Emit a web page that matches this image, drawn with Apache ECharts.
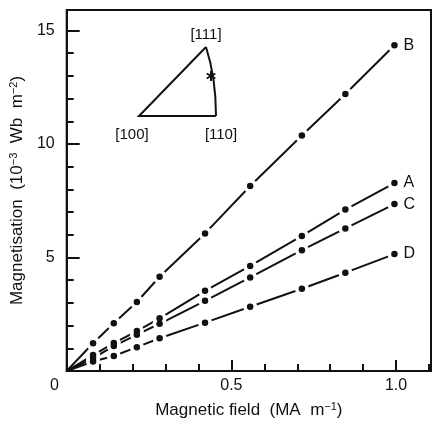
<!DOCTYPE html>
<html>
<head>
<meta charset="utf-8">
<script src="https://cdn.jsdelivr.net/npm/echarts@6/dist/echarts.min.js"></script>
<style>
  html, body { margin: 0; padding: 0; background: #fff; }
  #chart { width: 434px; height: 424px; }
</style>
</head>
<body>
<div id="chart"></div>
<script>
// Applied field (MA m^-1) at which each magnetisation was measured
var fields = [0.08, 0.143, 0.213, 0.282, 0.42, 0.557, 0.714, 0.846, 0.995];

// Magnetisation (10^-3 Wb m^-2) for the four samples
var curveNames = ['A', 'B', 'C', 'D'];
var magA = [0.70, 1.23, 1.76, 2.32, 3.53, 4.63, 5.95, 7.11, 8.28];
var magB = [1.22, 2.10, 3.04, 4.15, 6.06, 8.15, 10.37, 12.2, 14.35];
var magC = [0.57, 1.10, 1.60, 2.08, 3.09, 4.12, 5.32, 6.28, 7.35];
var magD = [0.42, 0.66, 1.05, 1.44, 2.13, 2.83, 3.62, 4.33, 5.15];

// Axis labels
var xMajorLabels = ['0.5', '1.0'];
var yMajorLabels = ['5', '10', '15'];

var FONT = 'Liberation Sans';
var INK = '#111';

var magByName = { A: magA, B: magB, C: magC, D: magD };

function pointsOf(values) {
  var pts = [];
  for (var i = 0; i < values.length; i++) pts.push([fields[i], values[i]]);
  return pts;
}

// Solid lines from the origin through the measured points, labelled at the end
var lineSeries = curveNames.map(function (name) {
  return {
    name: name,
    type: 'line',
    data: [[0, 0]].concat(pointsOf(magByName[name])),
    showSymbol: false,
    symbol: 'none',
    lineStyle: { color: INK, width: 2 },
    z: 2,
    emphasis: { disabled: true },
    endLabel: {
      show: true,
      formatter: name,
      distance: 9,
      color: INK,
      fontFamily: FONT,
      fontSize: 16
    }
  };
});

var allPoints = [];
curveNames.forEach(function (name) { allPoints = allPoints.concat(pointsOf(magByName[name])); });

// White discs break the line around each point, then the dots go on top
var haloSeries = {
  type: 'scatter', data: allPoints, symbol: 'circle', symbolSize: 14,
  itemStyle: { color: '#fff', opacity: 1 }, z: 3, silent: true
};
var dotSeries = {
  type: 'scatter', data: allPoints, symbol: 'circle', symbolSize: 6.5,
  itemStyle: { color: INK, opacity: 1 }, z: 4, silent: true
};

function near(v, s) { return Math.abs(v - parseFloat(s)) < 1e-6; }

var xMax = 1.106, yMax = 15.9;

var option = {
  animation: false,
  grid: {
    left: 66, right: 3, top: 10, bottom: 53,
    show: true, borderColor: INK, borderWidth: 2, backgroundColor: 'transparent'
  },
  xAxis: [
    {
      type: 'value', min: 0, max: xMax, interval: 0.1,
      axisLine: { show: true, lineStyle: { color: INK, width: 2 } },
      axisTick: { show: true, inside: true, length: 7, lineStyle: { color: INK, width: 2 } },
      splitLine: { show: false },
      axisLabel: {
        margin: 7, color: INK, fontFamily: FONT, fontSize: 16,
        showMaxLabel: false,
        formatter: function (v) {
          for (var i = 0; i < xMajorLabels.length; i++) if (near(v, xMajorLabels[i])) return xMajorLabels[i];
          return '';
        }
      },
      name: 'Magnetic field  (MA  m{sup|\u22121})',
      nameLocation: 'middle',
      nameGap: 30,
      nameTextStyle: {
        color: INK, fontFamily: FONT, fontSize: 17,
        rich: { sup: { fontFamily: FONT, fontSize: 11, color: INK, verticalAlign: 'top', padding: [0, 0, 8, 0] } }
      }
    },
    {
      type: 'value', min: 0, max: xMax, interval: 0.5, position: 'bottom',
      axisLine: { show: false },
      axisTick: { show: true, inside: true, length: 11, lineStyle: { color: INK, width: 2 } },
      axisLabel: { show: false },
      splitLine: { show: false }
    }
  ],
  yAxis: [
    {
      type: 'value', min: 0, max: yMax, interval: 1,
      axisLine: { show: true, lineStyle: { color: INK, width: 2 } },
      axisTick: { show: true, inside: true, length: 7, lineStyle: { color: INK, width: 2 } },
      splitLine: { show: false },
      axisLabel: {
        margin: 12, color: INK, fontFamily: FONT, fontSize: 16,
        showMaxLabel: false,
        formatter: function (v) {
          for (var i = 0; i < yMajorLabels.length; i++) if (near(v, yMajorLabels[i])) return yMajorLabels[i];
          return '';
        }
      },
      name: 'Magnetisation  (10{sup|\u22123}  Wb  m{sup|\u22122})',
      nameLocation: 'middle',
      nameGap: 33,
      nameTextStyle: {
        color: INK, fontFamily: FONT, fontSize: 17,
        rich: { sup: { fontFamily: FONT, fontSize: 11, color: INK, verticalAlign: 'top', padding: [0, 0, 8, 0] } }
      }
    },
    {
      type: 'value', min: 0, max: yMax, interval: 5, position: 'left',
      axisLine: { show: false },
      axisTick: { show: true, inside: true, length: 13, lineStyle: { color: INK, width: 2 } },
      axisLabel: { show: false },
      splitLine: { show: false }
    }
  ],
  series: lineSeries.concat([haloSeries, dotSeries]),
  graphic: [
    // shared origin label
    { type: 'text', left: 50, top: 378, style: { text: '0', fill: INK, font: '16px ' + FONT } },
    // stereographic triangle inset
    {
      type: 'group', silent: true,
      children: [
        { type: 'polyline', shape: { points: [[216, 116], [139, 116], [206, 47]] },
          style: { stroke: INK, lineWidth: 2, fill: null } },
        { type: 'bezierCurve', shape: { x1: 206, y1: 47, x2: 216, y2: 116, cpx1: 216, cpy1: 78 },
          style: { stroke: INK, lineWidth: 2, fill: null } },
        { type: 'line', shape: { x1: 211, y1: 71, x2: 211, y2: 81 }, style: { stroke: INK, lineWidth: 2 } },
        { type: 'line', shape: { x1: 206.7, y1: 73.5, x2: 215.3, y2: 78.5 }, style: { stroke: INK, lineWidth: 2 } },
        { type: 'line', shape: { x1: 206.7, y1: 78.5, x2: 215.3, y2: 73.5 }, style: { stroke: INK, lineWidth: 2 } },
        { type: 'text', x: 206, y: 35, style: { text: '[111]', fill: INK, font: '15px ' + FONT, textAlign: 'center', textVerticalAlign: 'middle' } },
        { type: 'text', x: 132, y: 135, style: { text: '[100]', fill: INK, font: '15px ' + FONT, textAlign: 'center', textVerticalAlign: 'middle' } },
        { type: 'text', x: 221, y: 135, style: { text: '[110]', fill: INK, font: '15px ' + FONT, textAlign: 'center', textVerticalAlign: 'middle' } }
      ]
    }
  ]
};

var chart = echarts.init(document.getElementById('chart'), null, { renderer: 'canvas' });
chart.setOption(option);
</script>
</body>
</html>
